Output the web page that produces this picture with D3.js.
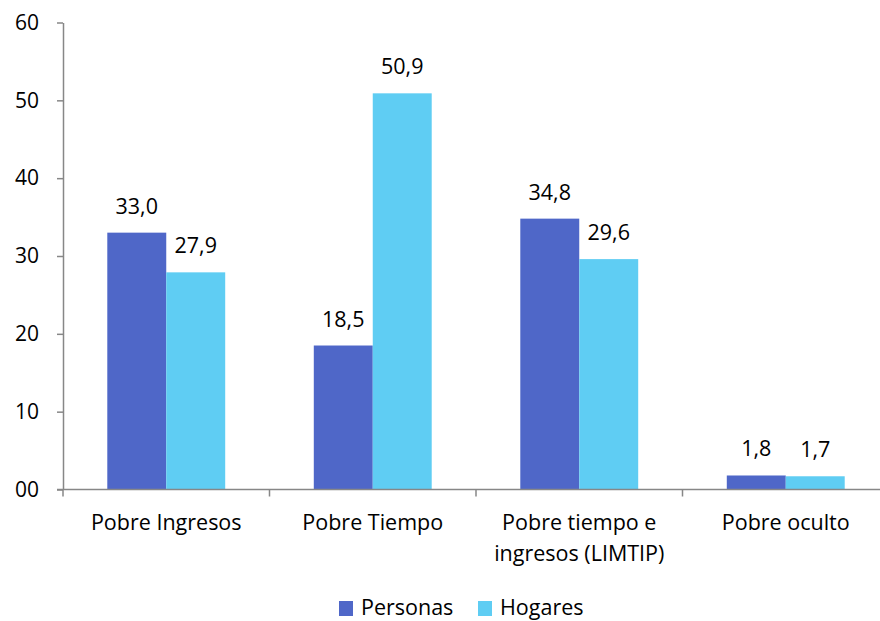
<!DOCTYPE html>
<html>
<head>
<meta charset="utf-8">
<script src="https://cdn.jsdelivr.net/npm/d3@7"></script>
<style>
  html, body { margin: 0; padding: 0; background: #fff; }
  svg { display: block; font-family: "Open Sans", sans-serif; }
</style>
</head>
<body>
<svg id="chart" width="880" height="621"></svg>
<script>
const categories = [["Pobre Ingresos"], ["Pobre Tiempo"], ["Pobre tiempo e", "ingresos (LIMTIP)"], ["Pobre oculto"]];
const seriesNames = ["Personas", "Hogares"];
const personas = [33.0, 18.5, 34.8, 1.8];
const hogares = [27.9, 50.9, 29.6, 1.7];
const yTicks = [0, 10, 20, 30, 40, 50, 60];
const yTickLabels = ["00", "10", "20", "30", "40", "50", "60"];
const colors = ["#4F67C8", "#5FCDF3"];

const svg = d3.select("#chart");
const plotLeft = 63, plotRight = 889, plotTop = 22.5, plotBottom = 489.5;
const catKeys = categories.map(c => c.join(" "));

const x0 = d3.scaleBand().domain(catKeys).range([plotLeft, plotRight]).padding(0);
const groupW = x0.bandwidth() * 0.571;
const x1 = d3.scaleBand().domain(seriesNames).range([-groupW / 2, groupW / 2]).padding(0);
const y = d3.scaleLinear().domain([0, 60]).range([plotBottom, plotTop]);

const axisColor = "#878787";

// bars
const data = seriesNames.map((s, i) => ({ name: s, values: i === 0 ? personas : hogares, color: colors[i] }));
data.forEach(s => {
  const g = svg.append("g");
  g.selectAll("rect").data(s.values).enter().append("rect")
    .attr("x", (d, i) => x0(catKeys[i]) + x0.bandwidth() / 2 + x1(s.name))
    .attr("y", d => y(d))
    .attr("width", x1.bandwidth())
    .attr("height", d => y(0) - y(d))
    .attr("fill", s.color);
  g.selectAll("text").data(s.values).enter().append("text")
    .attr("x", (d, i) => x0(catKeys[i]) + x0.bandwidth() / 2 + x1(s.name) + x1.bandwidth() / 2)
    .attr("y", d => y(d) - 19)
    .attr("text-anchor", "middle")
    .attr("font-size", 21.5)
    .attr("fill", "#000")
    .text(d => d.toFixed(1).replace(".", ","));
});

// y axis
const yAxis = d3.axisLeft(y).tickValues(yTicks).tickFormat((d, i) => yTickLabels[i]).tickSize(6).tickPadding(18).tickSizeOuter(0);
const yg = svg.append("g").attr("transform", `translate(${plotLeft},0)`).call(yAxis);
yg.select(".domain").attr("stroke", axisColor).attr("stroke-width", 1.5);
yg.selectAll(".tick line").attr("stroke", axisColor).attr("stroke-width", 1.5);
yg.selectAll(".tick text").attr("font-size", 21).attr("fill", "#000").attr("font-family", "Open Sans, sans-serif");

// x axis
const xg = svg.append("g");
xg.append("line").attr("x1", plotLeft - 6).attr("x2", 880).attr("y1", y(0)).attr("y2", y(0))
  .attr("stroke", axisColor).attr("stroke-width", 1.5);
const boundaries = catKeys.map(k => x0(k));
xg.selectAll("line.tick").data(boundaries).enter().append("line").attr("class", "tick")
  .attr("x1", d => d).attr("x2", d => d).attr("y1", y(0)).attr("y2", y(0) + 7)
  .attr("stroke", axisColor).attr("stroke-width", 1.5);

categories.forEach((lines, i) => {
  const cx = x0(catKeys[i]) + x0.bandwidth() / 2;
  const t = svg.append("text")
    .attr("x", cx)
    .attr("y", 530)
    .attr("text-anchor", "middle")
    .attr("font-size", 21.5)
    .attr("fill", "#000");
  lines.forEach((l, j) => {
    t.append("tspan").attr("x", cx).attr("dy", j === 0 ? 0 : 31).text(l);
  });
});

// legend
const legendX = [339, 478];
seriesNames.forEach((s, i) => {
  const g = svg.append("g").attr("transform", `translate(${legendX[i]},601)`);
  g.append("rect").attr("width", 14).attr("height", 15).attr("fill", colors[i]);
  g.append("text").attr("x", 22).attr("y", 14).attr("font-size", 21.5).attr("fill", "#000").text(s);
});
</script>
</body>
</html>
